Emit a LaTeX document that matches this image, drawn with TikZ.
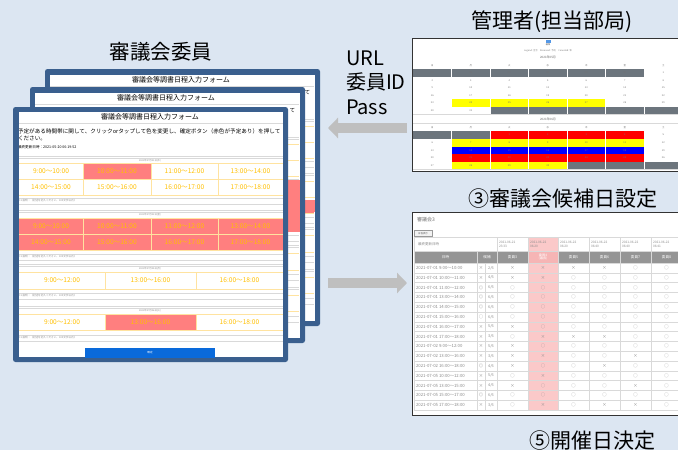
\documentclass[tikz,border=0pt]{standalone}
\usepackage{fontspec}
\setmainfont{Noto Sans CJK JP}
\usetikzlibrary{arrows.meta}
\definecolor{bgblue}{HTML}{DCE6F2}
\definecolor{winblue}{HTML}{3A5F8E}
\definecolor{arrgray}{HTML}{BFBFBF}
\definecolor{salm}{HTML}{FF7F7F}
\definecolor{gold}{HTML}{FFC000}
\definecolor{goldline}{HTML}{FFE3A0}
\definecolor{btnblue}{HTML}{0A6ADB}
\definecolor{calgray}{HTML}{6C757D}
\definecolor{calyel}{HTML}{FFFF00}
\definecolor{calred}{HTML}{FF0000}
\definecolor{calblu}{HTML}{0000FF}
\definecolor{tblgray}{HTML}{959595}
\definecolor{pinkcol}{HTML}{FBC9C9}
\definecolor{pinkhdr}{HTML}{F6B5B5}
\definecolor{lightline}{HTML}{D9D9D9}
\definecolor{txtgray}{HTML}{8C8C8C}
\newcommand\fs[1]{\fontsize{#1}{#1}\selectfont}
\tikzset{
  every node/.style={inner sep=0pt, outer sep=0pt},
  bigtitle/.style={font=\fs{20.5}, anchor=base, text=black},
  sidetxt/.style={font=\fs{20}, anchor=base west, text=black},
  slot/.style={font=\fs{6.6}, text=gold},
  tinyl/.style={anchor=west},
  hdr/.style={font=\fs{2.4}, text=txtgray},
  note/.style={anchor=west, font=\fs{2.6}, text=txtgray},
  gline/.style={draw=goldline, line width=0.6pt},
  lline/.style={draw=lightline, line width=0.4pt},
  win/.style={fill=winblue, rounded corners=2.5pt},
  bigarrow/.style={draw=arrgray, line width=10pt, -{Triangle[length=10pt,width=20pt]}},
  calnum/.style={font=\fs{2.4}, text=black!55},
  tline/.style={draw=lightline, line width=0.4pt},
  ttxt/.style={font=\fs{4.3}, text=black!45},
  thtxt/.style={font=\fs{3.2}, text=black!45},
  thw/.style={font=\fs{3.6}, text=white},
  shotborder/.style={draw=black!80, line width=1.2pt},
}
% non-text graphics of the form, local coordinates
\newcommand\formshapes{%
  \draw[lline] (0,11) -- (264,11);
  \draw[lline] (0,44) -- (264,44) (0,46) -- (264,46);
  \fill[salm] (64,51) rectangle (132,67);
  \draw[gline] (0,51) -- (264,51) (0,67) -- (264,67) (0,83) -- (264,83)
               (64,51) -- (64,83) (132,51) -- (132,83) (199,51) -- (199,83);
  \draw[lline] (0,86) -- (264,86) (0,92) -- (264,92);
  \draw[lline] (0,98) -- (264,98) (0,100) -- (264,100);
  \fill[salm] (0,106) rectangle (264,138);
  \draw[gline] (0,106) -- (264,106) (0,122) -- (264,122) (0,138) -- (264,138)
               (64,106) -- (64,138) (132,106) -- (132,138) (199,106) -- (199,138);
  \draw[lline] (0,142) -- (264,142) (0,148) -- (264,148);
  \draw[lline] (0,152) -- (264,152) (0,154) -- (264,154);
  \draw[gline] (0,160) -- (264,160) (0,177) -- (264,177) (86,160) -- (86,177) (177,160) -- (177,177);
  \draw[lline] (0,181) -- (264,181) (0,187) -- (264,187);
  \draw[lline] (0,194) -- (264,194) (0,196) -- (264,196);
  \fill[salm] (86,202) rectangle (177,218);
  \draw[gline] (0,202) -- (264,202) (0,218) -- (264,218) (86,202) -- (86,218) (177,202) -- (177,218);
  \draw[lline] (0,223) -- (264,223) (0,229) -- (264,229);
  \fill[btnblue] (66,236) rectangle (196,247);
}
% texts of the front form
\newcommand\formtexts[1]{%
  \node[font=\fs{7}] (#1-t) at (131,5) {審議会等調書日程入力フォーム};
  \node[tinyl,font=\fs{5.6}] (#1-i1) at (-1,19.5) {予定がある時間帯に関して、クリックorタップして色を変更し、確定ボタン（赤色が予定あり）を押して};
  \node[tinyl,font=\fs{5.6}] (#1-i2) at (-1,26.5) {ください。};
  \node[tinyl,font=\fs{3.6}] (#1-u) at (-1,35) {最終更新日時：2021-05-20 06:19:52};
  \node[hdr] (#1-h1) at (131,48.5) {2021年07月01日(木)};
  \foreach \xx/\tt [count=\k] in {32/9:00～10:00,98/10:00～11:00,165.5/11:00～12:00,231.5/13:00～14:00}
     {\node[slot] (#1-a\k) at (\xx,59) {\tt};}
  \foreach \xx/\tt [count=\k] in {32/14:00～15:00,98/15:00～16:00,165.5/16:00～17:00,231.5/17:00～18:00}
     {\node[slot] (#1-b\k) at (\xx,75) {\tt};}
  \node[note] (#1-n1) at (-1,89) {※1 説明：（記述を記入ください。100文字以内）};
  \node[hdr] (#1-h2) at (131,102.5) {2021年07月02日(金)};
  \foreach \xx/\tt [count=\k] in {32/9:00～10:00,98/10:00～11:00,165.5/11:00～12:00,231.5/13:00～14:00}
     {\node[slot] (#1-c\k) at (\xx,114) {\tt};}
  \foreach \xx/\tt [count=\k] in {32/14:00～15:00,98/15:00～16:00,165.5/16:00～17:00,231.5/17:00～18:00}
     {\node[slot] (#1-d\k) at (\xx,130) {\tt};}
  \node[note] (#1-n2) at (-1,145) {※1 説明：（記述を記入ください。100文字以内）};
  \node[hdr] (#1-h3) at (131,156.5) {2021年07月05日(月)};
  \foreach \xx/\tt [count=\k] in {43/9:00～12:00,131.5/13:00～16:00,220.5/16:00～18:00}
     {\node[slot] (#1-e\k) at (\xx,168.5) {\tt};}
  \node[note] (#1-n3) at (-1,184) {※1 説明：（記述を記入ください。100文字以内）};
  \node[hdr] (#1-h4) at (131,198.5) {2021年07月06日(火)};
  \foreach \xx/\tt [count=\k] in {43/9:00～12:00,131.5/13:00～16:00,220.5/16:00～18:00}
     {\node[slot] (#1-f\k) at (\xx,210) {\tt};}
  \node[note] (#1-n4) at (-1,226) {※1 説明：（記述を記入ください。100文字以内）};
  \node[font=\fs{2.6},text=white] (#1-btn) at (131,241) {確定};
}
% only the texts of a back form that show
\newcommand\backtexts[1]{%
  \node[font=\fs{7}] (#1-t) at (131,5) {審議会等調書日程入力フォーム};
  \node[tinyl,font=\fs{5.6}] (#1-te) at (254.5,17.5) {て};
}
\newcommand\calrow[5]{%
  \foreach \cc [count=\ci] in {#4} {\fill[\cc] ({413+38.5*(\ci-1)},#2) rectangle ({413+38.5*\ci},#3);}
  \foreach \nn [count=\ci] in {#5} {\node[calnum] (cal#1-\ci) at ({413+38.5*(\ci-0.5)},{(#2+#3)/2}) {\nn};}
  \draw[tline] (413,#3) -- (690,#3);
}
\begin{document}
\begin{tikzpicture}[x=1pt,y=-1pt]
\fill[bgblue] (0,0) rectangle (678,450);
\useasboundingbox (0,0) rectangle (678,450);

% ---------- titles ----------
\node[bigtitle] (t-iin) at (161,59) {審議会委員};
\node[bigtitle,font=\fs{21}] (t-kanri) at (552,28) {管理者(担当部局)};
\node[bigtitle,font=\fs{21}] (t-kouho) at (563,206) {③審議会候補日設定};
\node[bigtitle,font=\fs{21}] (t-kaisai) at (592.5,448) {⑤開催日決定};
\node[sidetxt] (s-url) at (346,65) {URL};
\node[sidetxt] (s-id) at (346,89.5) {委員ID};
\node[sidetxt] (s-pass) at (346,114) {Pass};

% ---------- back window ----------
\fill[win] (45,69) rectangle (320,326);
\fill[white] (50,75) rectangle (315,321);
\begin{scope}
  \clip (50,75) rectangle (315,321);
  \begin{scope}[shift={(50,75)}]\formshapes\backtexts{bk}\end{scope}
  \fill[white] (290,181.5) rectangle (315,199.5);
  \draw[gline] (290,197) -- (315,197);
  \fill[salm] (290,200) rectangle (315,212);
\end{scope}

% ---------- middle window ----------
\fill[win] (30,87) rectangle (305,343);
\fill[white] (35,93) rectangle (300,338);
\begin{scope}
  \clip (35,93) rectangle (300,338);
  \begin{scope}[shift={(35,93)}]\formshapes\backtexts{md}\end{scope}
  \fill[salm] (283,180) rectangle (300,232);
\end{scope}

% ---------- front window ----------
\fill[win] (13,107) rectangle (288,362);
\fill[white] (19,112) rectangle (283,357);
\begin{scope}
  \clip (19,112) rectangle (283,357);
  \begin{scope}[shift={(19,112)}]\formshapes\formtexts{fr}\end{scope}
\end{scope}

% ---------- admin calendar screenshot ----------
\fill[white] (412,39) rectangle (690,171);
\fill[btnblue!70] (545.5,40.3) rectangle (550.5,42.8);
\node[font=\fs{2.2}, text=black!60] (adm-ic) at (548,44.8) {編集};
\node[font=\fs{2.3}, text=black!50] (adm-lg) at (548,51) {Legend: 空き\quad Reserved: 予約\quad Canceled: 休};
\node[font=\fs{3}, text=black!60] (adm-m1) at (548,57.5) {2021年05月};
\calrow{a0}{62}{69}{white,white,white,white,white,white,white}{日,月,火,水,木,金,土}
\calrow{a1}{69}{77}{calgray,calgray,calgray,calgray,calgray,calgray,white}{25,26,27,28,29,30,1}
\calrow{a2}{77}{84}{white,white,white,white,white,white,white}{2,3,4,5,6,7,8}
\calrow{a3}{84}{92}{white,white,white,white,white,white,white}{9,10,11,12,13,14,15}
\calrow{a4}{92}{99}{white,white,white,white,white,white,white}{16,17,18,19,20,21,22}
\calrow{a5}{99}{107}{white,calyel,calyel,calyel,calyel,white,white}{23,24,25,26,27,28,29}
\calrow{a6}{107}{114}{white,white,calgray,calgray,calgray,calgray,calgray}{30,31,1,2,3,4,5}
\node[font=\fs{3}, text=black!60] (adm-m2) at (548,119.5) {2021年06月};
\draw[tline] (413,123) -- (690,123);
\calrow{b0}{124}{131}{white,white,white,white,white,white,white}{日,月,火,水,木,金,土}
\calrow{b1}{131}{139}{calgray,calgray,calred,calred,calred,calred,white}{30,31,1,2,3,4,5}
\calrow{b2}{139}{147}{white,calyel,calyel,calyel,calyel,calyel,white}{6,7,8,9,10,11,12}
\calrow{b3}{147}{154}{white,calblu,calblu,calblu,calblu,calblu,white}{13,14,15,16,17,18,19}
\calrow{b4}{154}{162}{white,calred,calred,calred,calred,calred,white}{20,21,22,23,24,25,26}
\calrow{b5}{162}{169}{white,calyel,calyel,calyel,calgray,calgray,calgray}{27,28,29,30,1,2,3}
\foreach \ci in {1,...,6} {\draw[draw=white,line width=0.4pt] ({413+38.5*\ci},62) -- ({413+38.5*\ci},114) ({413+38.5*\ci},124) -- ({413+38.5*\ci},169);}
\draw[shotborder] (690,38.6) -- (412.6,38.6) -- (412.6,171.4) -- (690,171.4);

% ---------- candidate table screenshot ----------
\fill[white] (412,213) rectangle (690,415);
\node[anchor=west, font=\fs{5}, text=black!55] (tb-name) at (417,220) {審議会3};
\draw[draw=black!40, line width=0.3pt, fill=black!5] (414,230.5) rectangle (432,236);
\node[font=\fs{2.4}, text=black!60] (tb-btn) at (423,233.3) {日程表示};
\fill[pinkcol] (528,237) rectangle (558,410);
\fill[tblgray] (414,251) rectangle (528,263);
\fill[pinkhdr] (528,251) rectangle (558,263);
\fill[tblgray] (558,251) rectangle (690,263);
\foreach \yy in {237,251,263} {\draw[tline] (414,\yy) -- (690,\yy);}
\foreach \k in {1,...,15} {\draw[tline] (414,{263+9.8*\k}) -- (690,{263+9.8*\k});}
\foreach \xx in {414,497,528,558,589,620,651} {\draw[tline] (\xx,237) -- (\xx,410);}
\draw[tline] (477,251) -- (477,410) (485,263) -- (485,410);
\node[thtxt,anchor=west,font=\fs{3.5}] (tb-upd) at (418,244) {最終更新日時};
\foreach \xx/\da/\tm [count=\k] in {499/2021-06-21/23:33,530/2021-06-22/06:20,560/2021-06-22/06:20,591/2021-06-22/06:40,622/2021-06-22/06:40,653/2021-06-22/06:41}
  {\node[thtxt,anchor=west,align=left] (td\k) at (\xx,244) {\da\\[0.8pt]\tm};}
\node[thw] (th-dt) at (445.5,257) {日時};
\node[thw] (th-kh) at (487,257) {候補};
\node[thw,font=\fs{3.2},align=center] (th-m4) at (543,257) {委員4\\[0.5pt](議長)};
\foreach \xx/\nm [count=\k] in {512.5/委員3,573.5/委員5,604.5/委員6,635.5/委員7,666.5/委員8}
  {\node[thw] (th\k) at (\xx,257) {\nm};}
\foreach \dt/\sy/\cn/\ma/\mb/\mc/\md/\me/\mf [count=\k] in {
  2021-07-01 9:00～10:00/×/2/×/×/×/×/○/○,
  2021-07-01 10:00～11:00/×/4/×/×/○/○/○/○,
  2021-07-01 11:00～12:00/◎/6/○/○/○/○/○/○,
  2021-07-01 13:00～14:00/◎/6/○/○/○/○/○/○,
  2021-07-01 14:00～15:00/◎/6/○/○/○/○/○/○,
  2021-07-01 15:00～16:00/○/6/○/○/○/○/○/○,
  2021-07-01 16:00～17:00/×/5/×/○/○/○/○/○,
  2021-07-01 17:00～18:00/×/3/○/×/×/×/○/○,
  2021-07-02 9:00～12:00/×/5/×/○/○/○/○/○,
  2021-07-02 13:00～16:00/×/3/×/×/○/○/×/○,
  2021-07-02 16:00～18:00/◎/4/×/○/○/×/○/○,
  2021-07-05 10:00～12:00/×/5/○/×/○/○/○/○,
  2021-07-05 13:00～15:00/×/4/×/○/○/○/×/○,
  2021-07-05 15:00～17:00/◎/6/○/○/○/○/○/○,
  2021-07-05 17:00～18:00/×/3/○/×/○/×/×/○}
{
  \node[ttxt,anchor=west] (r\k-d) at (416,{263+9.8*(\k-0.5)}) {\dt};
  \node[ttxt] (r\k-s) at (481,{263+9.8*(\k-0.5)}) {\sy};
  \node[ttxt,font=\fs{3.8}] (r\k-c) at (491,{263+9.8*(\k-0.5)}) {\cn/6};
  \node[ttxt] (r\k-m3) at (512.5,{263+9.8*(\k-0.5)}) {\ma};
  \node[ttxt] (r\k-m4) at (543,{263+9.8*(\k-0.5)}) {\mb};
  \node[ttxt] (r\k-m5) at (573.5,{263+9.8*(\k-0.5)}) {\mc};
  \node[ttxt] (r\k-m6) at (604.5,{263+9.8*(\k-0.5)}) {\md};
  \node[ttxt] (r\k-m7) at (635.5,{263+9.8*(\k-0.5)}) {\me};
  \node[ttxt] (r\k-m8) at (666.5,{263+9.8*(\k-0.5)}) {\mf};
}
\draw[shotborder] (690,212.6) -- (412.6,212.6) -- (412.6,415.4) -- (690,415.4);

% ---------- arrows ----------
\coordinate (arrL-s) at (407,128);
\coordinate (arrL-e) at (328,128);
\coordinate (arrR-s) at (328,283);
\coordinate (arrR-e) at (407,283);
\draw[bigarrow] (arrL-s) -- (arrL-e);
\draw[bigarrow] (arrR-s) -- (arrR-e);
\end{tikzpicture}
\end{document}
